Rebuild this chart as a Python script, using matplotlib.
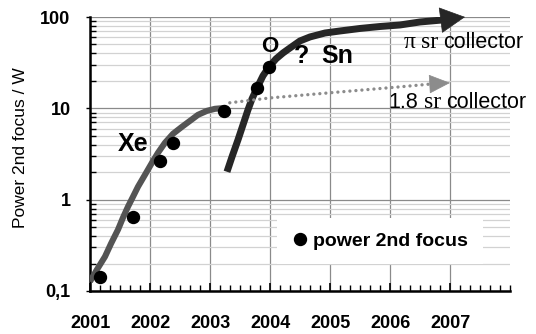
import matplotlib
matplotlib.use("Agg")
import matplotlib.pyplot as plt
from matplotlib.ticker import FixedLocator, MultipleLocator, LogLocator, NullFormatter
from matplotlib.offsetbox import TextArea, HPacker, AnnotationBbox

plt.rcParams['font.family'] = ['Liberation Sans', 'DejaVu Sans']

# measured power at the 2nd focus (W)
meas_year = [2001.17, 2001.72, 2002.17, 2002.38, 2003.23, 2003.78, 2003.98]
meas_power = [0.144, 0.65, 2.67, 4.2, 9.4, 16.7, 28.4]

# Xe trend
xe_year = [2001.0, 2001.117, 2001.25, 2001.35, 2001.467, 2001.55, 2001.633,
           2001.717, 2001.8, 2001.917, 2002.033, 2002.133, 2002.25, 2002.383,
           2002.533, 2002.667, 2002.8, 2002.95, 2003.083, 2003.25]
xe_power = [0.127, 0.172, 0.238, 0.330, 0.470, 0.636, 0.838, 1.078, 1.387,
            1.876, 2.538, 3.26, 4.20, 5.26, 6.28, 7.30, 8.49, 9.39, 9.88, 10.1]

# Sn trend with pi sr collector
sn_year = [2003.283, 2003.367, 2003.467, 2003.55, 2003.633, 2003.7, 2003.783,
           2003.883, 2003.983, 2004.1, 2004.217, 2004.333, 2004.5, 2004.667,
           2004.917, 2005.167, 2005.5, 2005.833, 2006.167, 2006.5, 2006.867]
sn_power = [2.02, 2.95, 4.53, 6.60, 9.63, 12.7, 16.7, 22.7, 28.4, 34.8, 40.4,
            45.8, 54.7, 60.5, 66.8, 70.3, 74.9, 78.7, 81.8, 88.2, 92.7]
sn_tip = (2007.25, 100.0)

# 1.8 sr collector extrapolation
col18_year = [2003.33, 2004.0, 2005.0, 2006.17, 2006.7]
col18_power = [11.5, 13.0, 14.8, 17.2, 18.5]
col18_tip = (2007.0, 19.0)

years = [2001, 2002, 2003, 2004, 2005, 2006, 2007]
year_labels = [str(y) for y in years]
power_ticks = [0.1, 1, 10, 100]
power_labels = ['0,1', '1', '10', '100']

fig = plt.figure(figsize=(5.36, 3.34), dpi=100)
ax = fig.add_axes([90 / 536, 43 / 334, 420 / 536, 274 / 334])
ax.set_yscale('log')
ax.set_xlim(2001, 2008)
ax.set_ylim(0.1, 100)

ax.xaxis.set_major_locator(FixedLocator(years))
ax.set_xticklabels(year_labels, fontweight='bold', fontsize=13)
ax.xaxis.set_minor_locator(MultipleLocator(1 / 6))
ax.yaxis.set_major_locator(FixedLocator(power_ticks))
ax.set_yticklabels(power_labels, fontweight='bold', fontsize=13)
ax.yaxis.set_minor_locator(LogLocator(base=10, subs=range(2, 10)))
ax.yaxis.set_minor_formatter(NullFormatter())

ax.grid(which='major', axis='both', color='#8a8a8a', lw=0.9)
ax.grid(which='minor', axis='y', color='#d2d2d2', lw=0.9)
ax.set_axisbelow(True)

ax.tick_params(axis='x', which='major', direction='in', length=6, width=1.2, pad=17)
ax.tick_params(axis='x', which='minor', direction='in', length=4, width=1.0)
ax.tick_params(axis='y', which='major', direction='out', length=3, width=1.0, pad=11)
ax.tick_params(axis='y', which='minor', direction='in', length=4.5, width=1.0)

for s in ('top', 'right'):
    ax.spines[s].set_visible(False)
for s in ('left', 'bottom'):
    ax.spines[s].set_linewidth(1.8)
    ax.spines[s].set_color('black')

# trend curves
ax.plot(xe_year, xe_power, color='#545454', lw=4.4, solid_capstyle='butt',
        solid_joinstyle='round', zorder=3)
ax.plot(sn_year, sn_power, color='#262626', lw=5.0, solid_capstyle='butt',
        solid_joinstyle='round', zorder=3)
ax.annotate('', xy=sn_tip, xytext=(sn_year[-1], sn_power[-1]),
            arrowprops=dict(arrowstyle='-|>,head_length=1.0,head_width=0.52',
                            mutation_scale=17, color='#262626', lw=0.5,
                            shrinkA=0, shrinkB=0), zorder=3)

ax.plot(col18_year, col18_power, color='#8c8c8c', lw=2.4,
        linestyle=(0, (0.01, 1.8)), dash_capstyle='round', zorder=3)
ax.annotate('', xy=col18_tip, xytext=(col18_year[-1], col18_power[-1]),
            arrowprops=dict(arrowstyle='-|>,head_length=1.0,head_width=0.45',
                            mutation_scale=14, color='#8c8c8c', lw=0.5,
                            shrinkA=0, shrinkB=0), zorder=3)

# measurements
ax.plot(meas_year, meas_power, 'o', color='black', ms=8.6, zorder=4,
        label='power 2nd focus')

# annotations
ax.text(2001.72, 4.1, 'Xe', fontsize=18, fontweight='bold', ha='center', va='center')
ax.text(2004.0, 47, 'O', fontsize=16, fontweight='bold', ha='center', va='center')
ax.text(2004.53, 37.5, '?', fontsize=18, fontweight='bold', ha='center', va='center')
ax.text(2005.12, 37.5, 'Sn', fontsize=18, fontweight='bold', ha='center', va='center')


def collector_label(parts, xy):
    boxes = [TextArea(t, textprops=dict(fontfamily=f, fontsize=s, color='black'))
             for t, f, s in parts]
    pack = HPacker(children=boxes, align='baseline', pad=0, sep=4.0)
    ab = AnnotationBbox(pack, xy, xycoords='data', box_alignment=(0, 0.5),
                        frameon=False, pad=0, annotation_clip=False, zorder=5)
    ax.add_artist(ab)


collector_label([('π', 'Liberation Serif', 17), ('sr', 'Liberation Serif', 17),
                 ('collector', 'Liberation Sans', 15.5)], (2006.22, 52))
collector_label([('1.8', 'Liberation Sans', 15.5), ('sr', 'Liberation Serif', 17),
                 ('collector', 'Liberation Sans', 15.5)], (2005.97, 11.5))

leg = ax.legend(loc='center', bbox_to_anchor=((380 - 90) / 420, (291 - 241) / 274),
                frameon=True, fancybox=False, framealpha=1, facecolor='white',
                edgecolor='none', handlelength=0.8, handletextpad=0.3,
                borderpad=0.75, prop=dict(weight='bold', size=14))
leg.set_zorder(6)

fig.text(21 / 536, 1 - 148 / 334, 'Power 2nd focus / W', rotation=90,
         ha='center', va='center', fontsize=12.5)

fig.savefig('out.png', dpi=100, facecolor='white')
